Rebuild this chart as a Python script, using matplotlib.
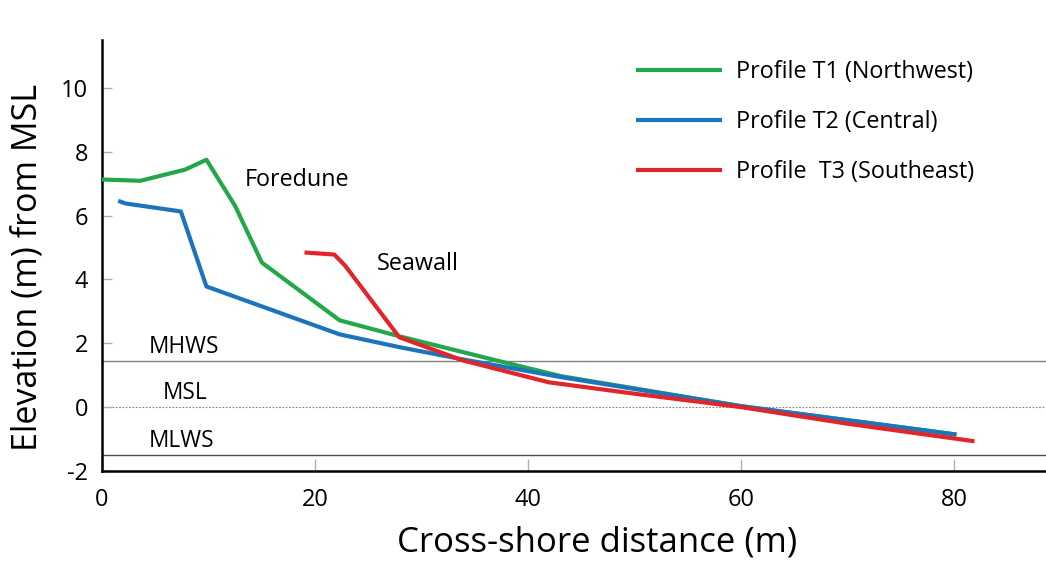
import matplotlib.pyplot as plt

# cross-shore profiles (distance m, elevation m from MSL)
t1_x = [0, 3.6, 7.8, 9.8, 12.5, 15.0, 22.3, 27.9, 37.3, 43.1, 60.0, 80.0]
t1_y = [7.13, 7.09, 7.44, 7.75, 6.3, 4.53, 2.72, 2.22, 1.44, 0.97, 0.03, -0.85]

t2_x = [1.7, 2.2, 7.4, 9.8, 22.3, 27.9, 33.8, 43.1, 60.0, 80.0]
t2_y = [6.44, 6.38, 6.13, 3.78, 2.28, 1.88, 1.50, 0.94, 0.03, -0.85]

t3_x = [19.2, 21.8, 22.8, 27.9, 33.8, 41.9, 50.0, 60.0, 70.0, 81.7]
t3_y = [4.84, 4.78, 4.44, 2.19, 1.47, 0.78, 0.42, 0.0, -0.52, -1.06]

labels = ["Profile T1 (Northwest)", "Profile T2 (Central)", "Profile  T3 (Southeast)"]
colors = ['#22a84a', '#1c75bc', '#e0262b']

mhws = 1.44
msl = 0.0
mlws = -1.5

plt.rcParams['font.family'] = ['Open Sans', 'DejaVu Sans']
plt.rcParams['axes.unicode_minus'] = False

fig = plt.figure(figsize=(10.46, 5.61), dpi=100)
ax = fig.add_axes([102/1046, 90/561, 1 - 102/1046, (471-40)/561])

ax.axhline(mhws, color='#808080', lw=1.0, zorder=1)
ax.axhline(msl, color='#808080', lw=0.8, ls=(0, (1.5, 1.5)), zorder=1)
ax.axhline(mlws, color='#505050', lw=1.0, zorder=1)

ax.plot(t1_x, t1_y, color=colors[0], lw=3, label=labels[0], zorder=3)
ax.plot(t2_x, t2_y, color=colors[1], lw=3, label=labels[1], zorder=3)
ax.plot(t3_x, t3_y, color=colors[2], lw=3, label=labels[2], zorder=4)

fs = 16.8
ax.text(13.4, 7.13, "Foredune", fontsize=fs, va='center', ha='left')
ax.text(25.8, 4.47, "Seawall", fontsize=fs, va='center', ha='left')
ax.text(4.4, 1.88, "MHWS", fontsize=16.3, va='center', ha='left')
ax.text(5.7, 0.44, "MSL", fontsize=16.3, va='center', ha='left')
ax.text(4.4, -1.06, "MLWS", fontsize=16.3, va='center', ha='left')

ax.set_xlim(0.25, 88.6)
ax.set_ylim(-2, 11.5)
ax.set_xticks([0, 20, 40, 60, 80])
ax.set_yticks([-2, 0, 2, 4, 6, 8, 10])

for s in ['top', 'right']:
    ax.spines[s].set_visible(False)
for s in ['left', 'bottom']:
    ax.spines[s].set_linewidth(1.8)

ax.tick_params(axis='both', direction='in', color='#b0b0b0', labelsize=17, width=1)
ax.tick_params(axis='x', length=9, pad=12)
ax.tick_params(axis='y', length=7, pad=10)

ax.set_xlabel("Cross-shore distance (m)", fontsize=25)
ax.set_ylabel("Elevation (m) from MSL", fontsize=24.5)
ax.xaxis.set_label_coords(0.524, -0.126)
ax.yaxis.set_label_coords(-0.061, 0.473)

ax.legend(loc='upper left', bbox_to_anchor=(638/1046, 1 - 60/561),
          bbox_transform=fig.transFigure, frameon=False, fontsize=fs,
          handlelength=3.5, handletextpad=0.72, labelspacing=1.12,
          borderpad=0, borderaxespad=0)

fig.savefig('out.png', dpi=100)
